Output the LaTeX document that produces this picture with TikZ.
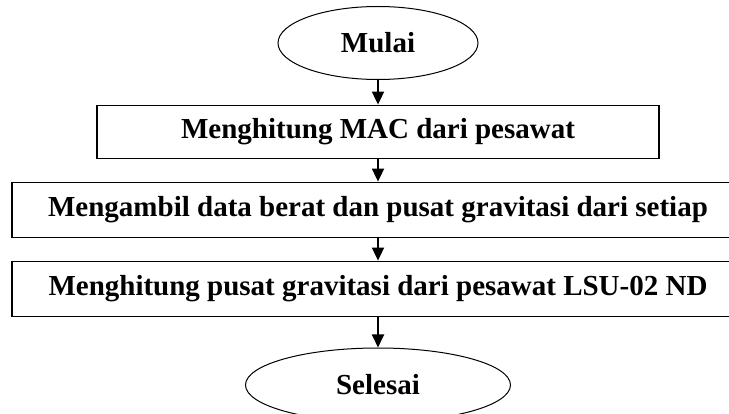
\documentclass[tikz,border=0pt]{standalone}
\usepackage{fontspec}
\setmainfont{Liberation Serif}
\usetikzlibrary{shapes.geometric,arrows.meta}

\begin{document}
\begin{tikzpicture}[x=1pt, y=-1pt]
  \tikzstyle{proses}=[rectangle, draw, line width=1.8pt, inner sep=0, font=\bfseries\fontsize{29}{34}\selectfont];
  \tikzstyle{terminal}=[ellipse, draw, line width=1pt, inner sep=0, font=\bfseries\fontsize{29}{34}\selectfont];
  \tikzstyle{alur}=[line width=1.8pt, -{Triangle[width=12pt, length=13pt]}];

  \useasboundingbox (0,0) rectangle (729,414);

  \node[terminal, minimum width=200pt, minimum height=73pt] (mulai) at (378, 43) {Mulai};
  \node[proses, minimum width=562pt, minimum height=53pt] (mac) at (378, 132) {Menghitung MAC dari pesawat};
  \node[proses, minimum width=732pt, minimum height=55pt] (data) at (378, 210) {Mengambil data berat dan pusat gravitasi dari setiap};
  \node[proses, minimum width=732pt, minimum height=55pt] (cg) at (378, 289) {Menghitung pusat gravitasi dari pesawat LSU-02 ND};
  \node[terminal, minimum width=265pt, minimum height=74pt] (selesai) at (378, 385) {Selesai};

  \draw[alur] (mulai) -- (mac);
  \draw[alur] (mac) -- (data);
  \draw[alur] (data) -- (cg);
  \draw[alur] (cg) -- (selesai);
\end{tikzpicture}
\end{document}
